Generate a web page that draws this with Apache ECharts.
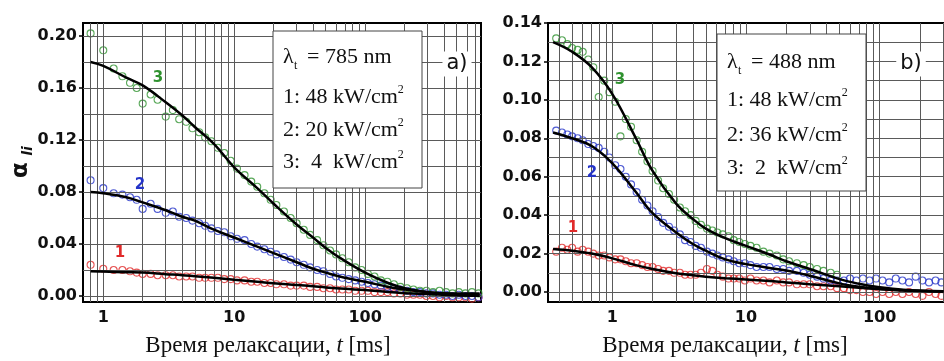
<!DOCTYPE html>
<html><head><meta charset="utf-8">
<script src="https://cdn.jsdelivr.net/npm/echarts@6/dist/echarts.min.js"></script>
<style>html,body{margin:0;padding:0;background:#fff}#c{width:944px;height:361px}</style>
</head><body><div id="c"></div>
<script>
// ---------- Panel a) data (λt = 785 nm) ----------
const leftT = [0.8,1.0,1.2,1.4,1.6,1.8,2.0,2.3,2.6,3.0,3.4,3.8,4.3,4.8,5.4,6.0,6.7,7.5,8.4,9.4,10.5,12,13.5,15,17,19,21,24,27,30,34,38,43,48,54,60,67,75,84,94,105,118,132,148,166,186,209,234,262,294,330,370,415,465,520,585,655,735];
const leftS3 = [0.202,0.189,0.175,0.169,0.164,0.160,0.148,0.155,0.151,0.138,0.143,0.136,0.134,0.129,0.126,0.122,0.119,0.114,0.110,0.104,0.098,0.093,0.088,0.084,0.079,0.074,0.070,0.065,0.060,0.056,0.051,0.047,0.043,0.039,0.035,0.032,0.029,0.026,0.022,0.020,0.017,0.015,0.012,0.011,0.009,0.007,0.006,0.005,0.004,0.004,0.003,0.004,0.003,0.002,0.003,0.002,0.003,0.002];
const leftS2 = [0.089,0.083,0.079,0.078,0.076,0.074,0.067,0.071,0.067,0.064,0.065,0.061,0.060,0.058,0.056,0.054,0.052,0.050,0.049,0.046,0.044,0.043,0.040,0.038,0.036,0.034,0.032,0.030,0.028,0.026,0.024,0.022,0.020,0.019,0.017,0.015,0.014,0.013,0.012,0.011,0.010,0.009,0.008,0.007,0.006,0.005,0.004,0.003,0.003,0.002,0.002,0.001,0.001,0.000,0.001,0.000,0.000,-0.001];
const leftS1 = [0.024,0.021,0.020,0.020,0.019,0.018,0.017,0.017,0.016,0.016,0.016,0.015,0.015,0.015,0.014,0.014,0.014,0.014,0.013,0.013,0.012,0.012,0.011,0.011,0.010,0.010,0.009,0.009,0.008,0.008,0.008,0.007,0.007,0.006,0.006,0.005,0.005,0.005,0.004,0.004,0.004,0.003,0.003,0.003,0.002,0.002,0.001,0.001,0.001,0.000,0.000,-0.001,0.000,-0.001,-0.001,-0.001,-0.002,-0.001];
const leftFitT  = [0.8,1,1.5,2,3,4,5,7,10,15,20,30,40,50,70,100,150,200,300,500,750];
const leftFit3  = [0.180,0.177,0.168,0.162,0.149,0.139,0.130,0.117,0.099,0.083,0.071,0.055,0.045,0.037,0.027,0.018,0.010,0.006,0.003,0.002,0.002];
const leftFit2  = [0.080,0.079,0.076,0.072,0.066,0.061,0.058,0.051,0.045,0.038,0.033,0.026,0.021,0.018,0.014,0.011,0.007,0.005,0.003,0.001,0.0005];
const leftFit1  = [0.019,0.0188,0.0183,0.018,0.0168,0.016,0.0152,0.014,0.0125,0.011,0.0098,0.0085,0.0075,0.0066,0.0055,0.0046,0.003,0.0022,0.0015,0.0006,0.0002];

// ---------- Panel b) data (λt = 488 nm) ----------
const rightT = [0.38,0.42,0.46,0.5,0.55,0.6,0.66,0.72,0.79,0.87,0.95,1.05,1.15,1.26,1.38,1.52,1.67,1.83,2.0,2.2,2.4,2.65,2.9,3.2,3.5,3.85,4.2,4.6,5.1,5.6,6.1,6.7,7.4,8.1,8.9,9.8,10.8,12,13.5,15,17,19,21,24,27,30,34,38,43,48,54,60,67,75,84,94,105,118,132,148,166,186,209,234,262,290];
const rightS3 = [0.132,0.131,0.129,0.127,0.126,0.125,0.121,0.117,0.1015,0.110,0.104,0.099,0.081,0.090,0.086,0.079,0.073,0.068,0.063,0.058,0.054,0.051,0.048,0.044,0.042,0.040,0.037,0.035,0.033,0.032,0.031,0.030,0.029,0.027,0.026,0.025,0.024,0.023,0.021,0.020,0.019,0.017,0.016,0.015,0.014,0.013,0.012,0.011,0.010,0.009,null,null,null,null,null,null,null,null,null,null,null,null,null,null,null,null];
const rightS2 = [0.084,0.083,0.082,0.081,0.080,0.079,0.077,0.076,0.075,0.073,0.070,0.066,0.064,0.060,0.056,0.052,0.048,0.045,0.042,0.039,0.036,0.034,0.032,0.030,0.027,0.026,0.024,0.023,0.021,0.020,0.019,0.018,0.017,0.016,0.015,0.015,0.014,0.013,0.013,0.013,0.012,0.012,0.011,0.011,0.010,0.009,0.008,0.007,0.006,0.006,0.006,0.007,0.006,0.007,0.006,0.007,0.006,0.005,0.007,0.006,0.005,0.008,0.006,0.005,0.006,0.005];
const rightS1 = [0.021,0.023,0.022,0.023,0.021,0.022,0.021,0.020,0.019,0.019,0.018,0.017,0.017,0.016,0.015,0.015,0.014,0.013,0.013,0.012,0.011,0.011,0.010,0.010,0.009,0.009,0.009,0.010,0.012,0.011,0.009,0.008,0.007,0.007,0.007,0.006,0.007,0.006,0.006,0.005,0.006,0.005,0.005,0.004,0.004,0.004,0.003,0.003,0.003,0.002,0.002,0.001,0.001,0.000,0.000,-0.001,0.000,-0.001,0.000,-0.001,0.000,-0.001,-0.002,0.000,-0.001,-0.002];
const rightFitT = [0.36,0.5,0.7,1,1.5,2,3,4,5,7,10,15,20,30,50,70,100,150,300];
const rightFit3 = [0.130,0.125,0.117,0.103,0.080,0.063,0.046,0.038,0.033,0.028,0.024,0.0195,0.016,0.012,0.0067,0.0043,0.0025,0.0012,0.0004];
const rightFit2 = [0.083,0.080,0.076,0.067,0.052,0.041,0.031,0.025,0.0215,0.017,0.0145,0.0125,0.0112,0.0085,0.0045,0.0027,0.0015,0.0008,0.0003];
const rightFit1 = [0.0224,0.0215,0.020,0.0175,0.014,0.012,0.0098,0.0087,0.008,0.0072,0.0065,0.0057,0.005,0.0041,0.003,0.0022,0.0015,0.0009,0.0003];

// ---------- tick labels ----------
const xTickLabels = [1, 10, 100];
const leftYTicks  = [0.00, 0.04, 0.08, 0.12, 0.16, 0.20];
const rightYTicks = [0.00, 0.02, 0.04, 0.06, 0.08, 0.10, 0.12, 0.14];

const C1 = '#e02a2a', C2 = '#2433c8', C3 = '#2f922f';
const LEFT = {min: 0.70, max: 768, ymin: -0.0046, ymax: 0.21, ystep: 0.02};
const RIGHT = {min: 0.33, max: 303, ymin: -0.0052, ymax: 0.14, ystep: 0.01};

function pairs(ts, vs) { const out = []; ts.forEach((t, i) => { if (vs[i] !== null) out.push([t, vs[i]]); }); return out; }
function logGrid(min, max) {
  const out = [];
  for (const d of [0.1, 1, 10, 100, 1000]) for (let k = 1; k <= 9; k++) { const v = +(k * d).toPrecision(3); if (v > min && v < max) out.push(v); }
  return out;
}
function linGrid(min, max, step) {
  const out = []; for (let v = 0; v < max - 1e-9; v += step) out.push(+v.toFixed(4)); return out;
}
function gridSeries(idx, cfg) {
  const ml = logGrid(cfg.min, cfg.max).map(v => ({xAxis: v}))
    .concat(linGrid(cfg.ymin, cfg.ymax, cfg.ystep).map(v => ({yAxis: v})));
  return {type: 'line', xAxisIndex: idx, yAxisIndex: idx, data: [[1, 0]], symbol: 'none', z: 1,
    lineStyle: {opacity: 0}, silent: true,
    markLine: {silent: true, symbol: ['none', 'none'], label: {show: false}, animation: false,
      lineStyle: {color: '#5a5a5a', width: 1, type: 'solid'}, emphasis: {disabled: true}, data: ml}};
}
function scat(idx, ts, vs, color) {
  return {type: 'scatter', xAxisIndex: idx, yAxisIndex: idx, data: pairs(ts, vs), symbol: 'circle', symbolSize: 7, z: 3,
    itemStyle: {color: 'rgba(255,255,255,0)', borderColor: color, borderWidth: 1.1}, silent: true};
}
function fit(idx, ts, vs) {
  return {type: 'line', xAxisIndex: idx, yAxisIndex: idx, data: pairs(ts, vs), smooth: 0.4, showSymbol: false, symbol: 'none', z: 5,
    lineStyle: {color: '#000', width: 2.5}, silent: true};
}
const labelFont = {fontFamily: 'DejaVu Sans', fontWeight: 'bold', fontSize: 16, color: '#111'};
function xAxis(idx, cfg) {
  return {type: 'log', logBase: 10, gridIndex: idx, min: cfg.min, max: cfg.max,
    axisLine: {show: false}, splitLine: {show: false}, minorSplitLine: {show: false},
    axisTick: {show: false},
    axisLabel: Object.assign({customValues: xTickLabels, formatter: v => String(Math.round(v)), margin: 8}, labelFont)};
}
function yAxis(idx, cfg, ticks) {
  return {type: 'value', gridIndex: idx, min: cfg.ymin, max: cfg.ymax,
    axisLine: {show: false}, splitLine: {show: false},
    axisTick: {show: true, customValues: ticks, length: 4, lineStyle: {color: '#000', width: 1.5}},
    axisLabel: Object.assign({customValues: ticks, formatter: v => v.toFixed(2), margin: 6}, labelFont)};
}
const serif = 'Liberation Serif';
function t(x, y, text, font, extra) {
  return Object.assign({type: 'text', x, y, z: 100, style: {text, font, fill: '#111', textAlign: 'left', textVerticalAlign: 'middle'}}, extra || {});
}
function richRow(x, y, text) {
  return {type: 'text', x, y, z: 100, style: {text, fill: '#111', textAlign: 'left', textVerticalAlign: 'middle',
    rich: {a: {fontFamily: serif, fontSize: 22, lineHeight: 26, fill: '#111', color: '#111'},
           s: {fontFamily: serif, fontSize: 12, verticalAlign: 'top', lineHeight: 26, fill: '#111', color: '#111'}}}};
}
function legendBox(x, y, w, h, lam, rows, ys) {
  const els = [{type: 'rect', z: 99, shape: {x, y, width: w, height: h}, style: {fill: '#fff', stroke: '#444', lineWidth: 1}}];
  els.push(t(x + 10, ys[0], 'λ', '22px ' + serif));
  els.push(t(x + 21, ys[0] + 9, 't', '12px ' + serif));
  els.push(t(x + 34, ys[0], '= ' + lam + ' nm', '22px ' + serif));
  rows.forEach((r, i) => els.push(richRow(x + 10, ys[i + 1], '{a|' + r + '}{s|2}')));
  return els;
}
function xTitle(cx, y) {
  return {type: 'text', x: cx, y, z: 100, style: {text: '{a|Время релаксации, }{i|t}{a| [ms]}', textAlign: 'center', textVerticalAlign: 'middle',
    rich: {a: {fontFamily: serif, fontSize: 23, fill: '#111', color: '#111'}, i: {fontFamily: serif, fontStyle: 'italic', fontSize: 23, fill: '#111', color: '#111'}}}};
}
function panelTag(x, y, text) {
  return {type: 'text', x, y, z: 100, style: {text, font: '21px DejaVu Sans', fill: '#111', textAlign: 'center', textVerticalAlign: 'middle',
    backgroundColor: '#fff', padding: [2, 4]}};
}
function numLabel(x, y, text, color) {
  return {type: 'text', x, y, z: 100, style: {text, font: 'bold 15px DejaVu Sans', fill: color, textAlign: 'center', textVerticalAlign: 'middle'}};
}

const chart = echarts.init(document.getElementById('c'), null, {renderer: 'canvas'});
chart.setOption({
  animation: false,
  backgroundColor: '#fff',
  grid: [
    {left: 83, top: 23, width: 398, height: 279, show: true, borderColor: '#000', borderWidth: 2, backgroundColor: 'rgba(0,0,0,0)'},
    {left: 548, top: 23, width: 400, height: 279, show: true, borderColor: '#000', borderWidth: 2, backgroundColor: 'rgba(0,0,0,0)'}
  ],
  xAxis: [xAxis(0, LEFT), xAxis(1, RIGHT)],
  yAxis: [yAxis(0, LEFT, leftYTicks), yAxis(1, RIGHT, rightYTicks)],
  series: [
    gridSeries(0, LEFT), gridSeries(1, RIGHT),
    scat(0, leftT, leftS1, C1), scat(0, leftT, leftS2, C2), scat(0, leftT, leftS3, C3),
    fit(0, leftFitT, leftFit1), fit(0, leftFitT, leftFit2), fit(0, leftFitT, leftFit3),
    scat(1, rightT, rightS1, C1), scat(1, rightT, rightS2, C2), scat(1, rightT, rightS3, C3),
    fit(1, rightFitT, rightFit1), fit(1, rightFitT, rightFit2), fit(1, rightFitT, rightFit3)
  ],
  graphic: [].concat(
    legendBox(273, 31, 149, 157, '785', ['1: 48 kW/cm', '2: 20 kW/cm', '3:  4  kW/cm'], [57, 97, 130, 162]),
    legendBox(717, 34, 149, 157, '488', ['1: 48 kW/cm', '2: 36 kW/cm', '3:  2  kW/cm'], [62, 100, 135, 168]),
    [
      panelTag(457, 64, 'a)'), panelTag(911, 64, 'b)'),
      numLabel(158, 78, '3', C3), numLabel(140, 185, '2', C2), numLabel(120, 253, '1', C1),
      numLabel(620, 80, '3', C3), numLabel(592, 173, '2', C2), numLabel(573, 228, '1', C1),
      xTitle(268, 346), xTitle(725, 346),
      {type: 'group', x: 24, y: 160, rotation: Math.PI / 2, z: 100, children: [
        {type: 'text', x: -10, y: -3, z: 100, style: {text: 'α', font: 'bold 23px DejaVu Sans', fill: '#111', textAlign: 'center', textVerticalAlign: 'middle'}},
        {type: 'text', x: 9, y: 4, z: 100, style: {text: 'li', font: 'italic bold 14px DejaVu Sans', fill: '#111', textAlign: 'center', textVerticalAlign: 'middle'}}
      ]}
    ]
  )
});
</script></body></html>
